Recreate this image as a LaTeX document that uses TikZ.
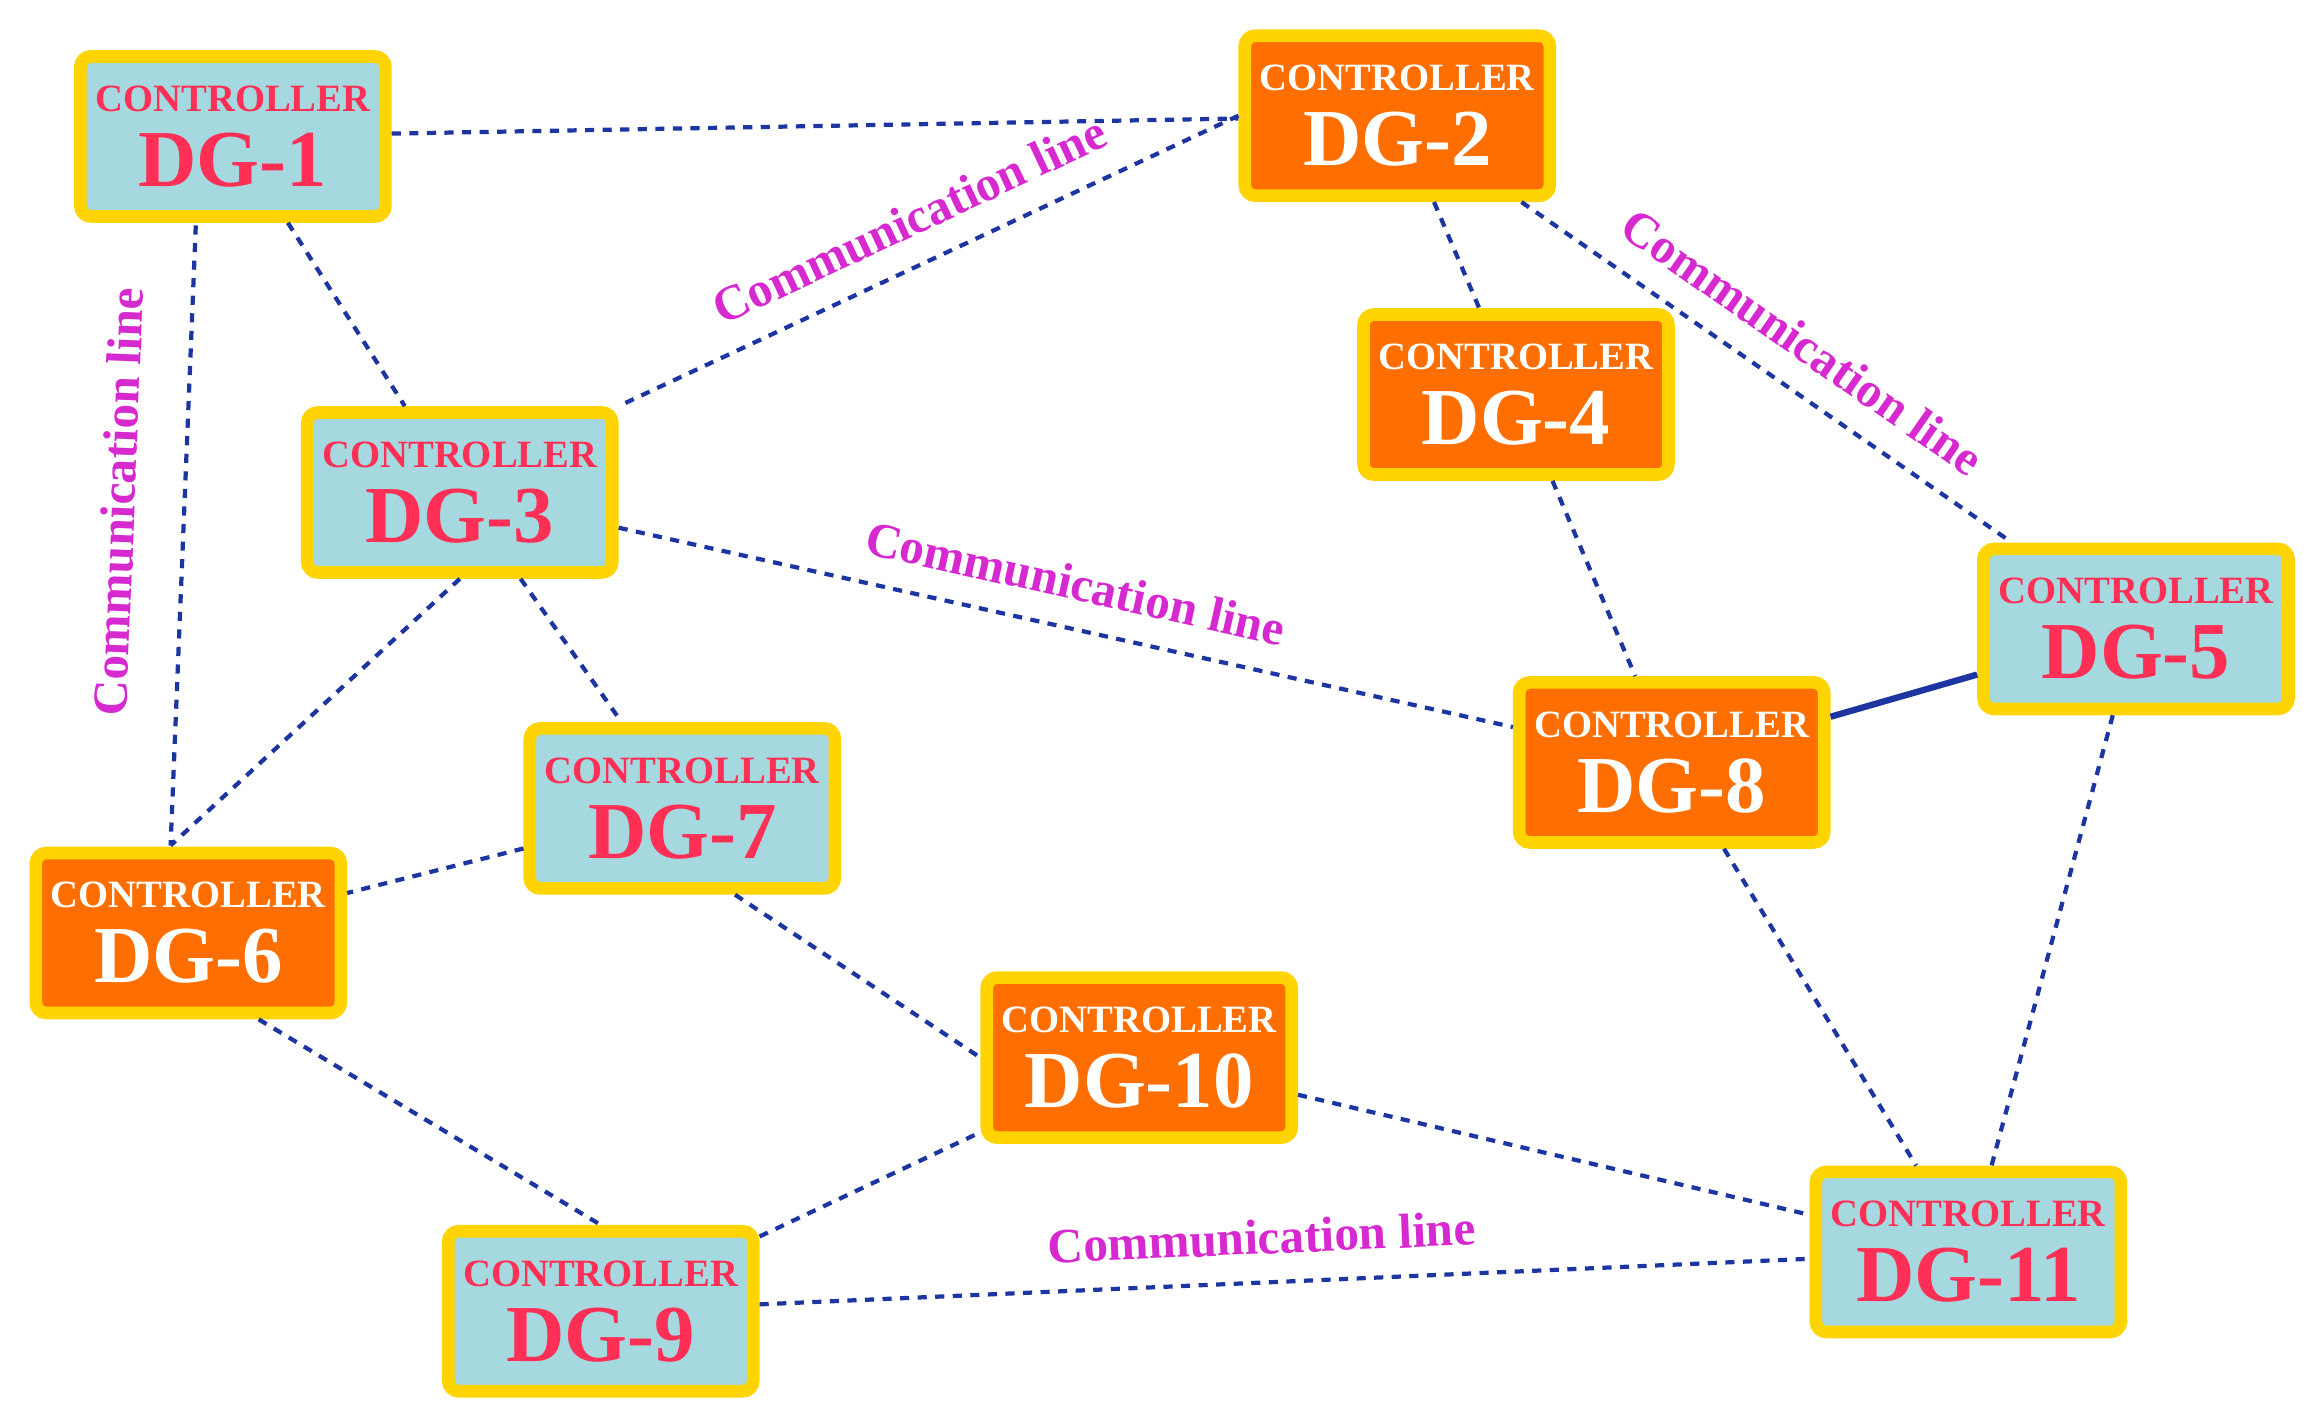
\documentclass[tikz,border=0pt]{standalone}
\usepackage{fontspec}
\setmainfont{Liberation Serif}
\usetikzlibrary{positioning}
\definecolor{boxblue}{HTML}{A6D8E0}
\definecolor{boxorange}{HTML}{FF6E00}
\definecolor{boxgold}{HTML}{FFD400}
\definecolor{txtred}{HTML}{FF2F55}
\definecolor{linkblue}{HTML}{1C35A0}
\definecolor{lblpink}{HTML}{D62AD0}
\tikzset{
	x=0.01483cm, y=-0.01483cm,
	ctrl/.style={draw=boxgold, line width=3.6pt, rounded corners=3pt, minimum width=3.05cm, minimum height=1.6cm, align=center, inner sep=0pt, font=\bfseries},
	blue ctrl/.style={ctrl, fill=boxblue, text=txtred},
	orange ctrl/.style={ctrl, fill=boxorange, text=white},
	link/.style={draw=linkblue, line width=1.2pt, dash pattern=on 2.6pt off 2.4pt},
	comm/.style={text=lblpink, font=\bfseries\fontsize{14}{14}\selectfont, sloped, above=4pt},
}
\newcommand{\ctrltext}[1]{{\fontsize{11}{12}\selectfont CONTROLLER}\\[5pt]{\fontsize{23}{23}\selectfont DG-#1}}

\begin{document}
\begin{tikzpicture}
	\useasboundingbox (0,0) rectangle (1560,960);
	\node[blue ctrl] (DG1) at (157,92) {\ctrltext{1}};
	\node[orange ctrl] (DG2) at (942,78) {\ctrltext{2}};
	\node[blue ctrl] (DG3) at (310,332) {\ctrltext{3}};
	\node[orange ctrl] (DG4) at (1022,266) {\ctrltext{4}};
	\node[blue ctrl] (DG5) at (1440,424) {\ctrltext{5}};
	\node[orange ctrl] (DG6) at (127,629) {\ctrltext{6}};
	\node[blue ctrl] (DG7) at (460,545) {\ctrltext{7}};
	\node[orange ctrl] (DG8) at (1127,514) {\ctrltext{8}};
	\node[blue ctrl] (DG9) at (405,884) {\ctrltext{9}};
	\node[orange ctrl] (DG10) at (768,713) {\ctrltext{10}};
	\node[blue ctrl] (DG11) at (1327,844) {\ctrltext{11}};

	\coordinate (a1) at (132,152);
	\coordinate (a6) at (115,570);
	\draw[link] (DG1) -- (DG2);
	\draw[link] (DG1) -- (DG3);
	\draw[link] (a1) -- node[comm, pos=0.45, above=10pt]{Communication line} (a6);
	\draw[link] (DG2.west) -- node[comm, pos=0.5]{Communication line} (DG3.north east);
	\draw[link] (DG2) -- (DG4);
	\draw[link] (DG2) -- node[comm, pos=0.52]{Communication line} (DG5);
	\draw[link] (DG3) -- node[comm, pos=0.5]{Communication line} (DG8);
	\draw[link] (DG3.south) -- (a6);
	\draw[link] (DG3) -- (DG7);
	\draw[link] (DG4) -- (DG8);
	\draw[draw=linkblue, line width=1.8pt] (DG8) -- (DG5);
	\draw[link] (DG7) -- (DG6);
	\draw[link] ([xshift=15]DG7.south) -- (DG10.west);
	\draw[link] ([xshift=20]DG6.south) -- (DG9.north);
	\draw[link] (DG9) -- (DG10);
	\draw[link] (DG10) -- (DG11);
	\draw[link] (DG9) -- node[comm, pos=0.48]{Communication line} (DG11);
	\draw[link] (DG8) -- (DG11);
	\draw[link] (DG5) -- (DG11);
\end{tikzpicture}
\end{document}
